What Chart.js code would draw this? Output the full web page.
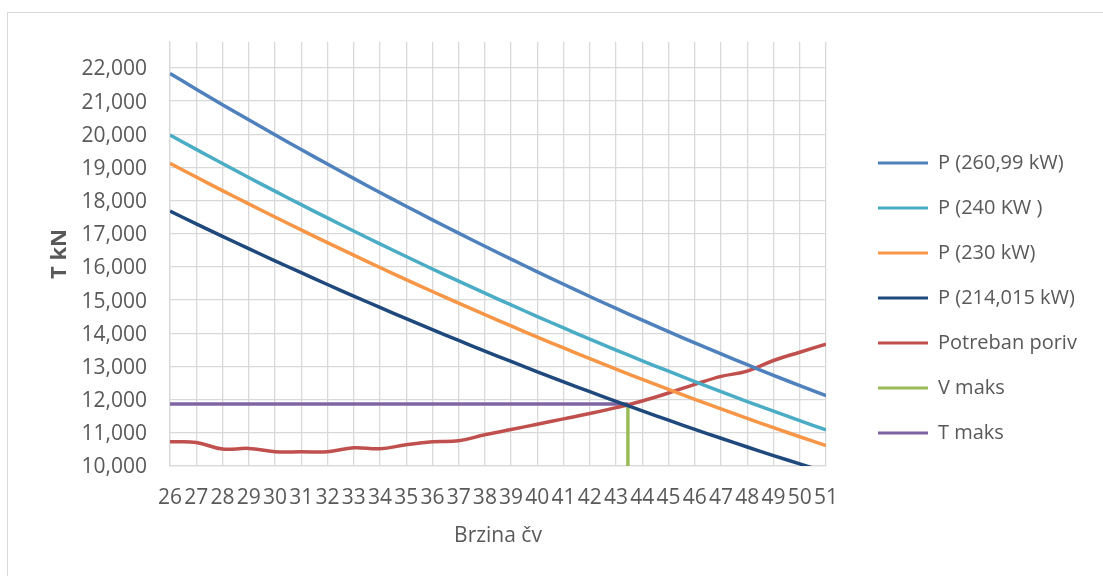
<!DOCTYPE html>
<html><head><meta charset="utf-8">
<script src="https://cdn.jsdelivr.net/npm/chart.js@4"></script>
<style>
html,body{margin:0;padding:0;background:#fff;overflow:hidden;width:1103px;height:576px;}
#frame{position:absolute;left:7px;top:12px;width:1200px;height:700px;border:1px solid #d9d9d9;box-sizing:border-box;}
#c{position:absolute;left:0;top:0;}
</style></head><body>
<div id="frame"></div>
<canvas id="c" width="1103" height="576"></canvas>
<script>
// Speeds (Brzina čv)
const speeds = [26,27,28,29,30,31,32,33,34,35,36,37,38,39,40,41,42,43,44,45,46,47,48,49,50,51];
// Y tick values (T kN)
const yTicks = [10000,11000,12000,13000,14000,15000,16000,17000,18000,19000,20000,21000,22000];
// Thrust curves (T kN)
const p260 = [21830,21358,20892,20434,19982,19538,19100,18670,18246,17830,17420,17018,16622,16234,15852,15478,15110,14750,14396,14050,13710,13378,13052,12734,12422,12118];
const p240 = [19974,19543,19116,18697,18284,17877,17477,17083,16695,16314,15939,15571,15209,14854,14505,14162,13826,13496,13172,12856,12545,12241,11943,11652,11366,11088];
const p230 = [19123,18710,18301,17900,17504,17115,16732,16355,15983,15619,15260,14908,14561,14221,13886,13559,13236,12921,12611,12308,12010,11719,11434,11155,10882,10615];
const p214 = [17682,17300,16923,16552,16185,15826,15471,15123,14779,14442,14110,13785,13464,13150,12840,12537,12239,11948,11661,11381,11105,10836,10572,10315,10062,9816];
const potreban = [10730,10710,10510,10530,10430,10430,10430,10550,10520,10640,10730,10760,10940,11100,11260,11420,11580,11760,11960,12200,12460,12700,12860,13180,13430,13670];
// V maks (vertical marker) and T maks (horizontal marker)
const vMaksX = [43.45, 43.45];
const vMaksY = [10000, 11870];
const tMaksX = [26, 43.45];
const tMaksY = [11870, 11870];

const names = ['P (260,99 kW)','P (240 KW )','P (230 kW)','P (214,015 kW)','Potreban poriv','V maks','T maks'];
const colors = ['#4F81BD','#4BACC6','#F79646','#1F497D','#C0504D','#9BBB59','#8064A2'];

const pts = (xs, ys) => xs.map((x, i) => ({x: x, y: ys[i]}));
const seriesData = [pts(speeds,p260), pts(speeds,p240), pts(speeds,p230), pts(speeds,p214), pts(speeds,potreban), pts(vMaksX,vMaksY), pts(tMaksX,tMaksY)];

Chart.defaults.font.family = "'Open Sans', sans-serif";
Chart.defaults.color = '#595959';

const legendPlacer = {
  id: 'legendPlacer',
  beforeDraw(chart) {
    const lg = chart.legend;
    if (!lg) return;
    lg.left = 853; lg.right = lg.left + lg.width;
    lg.top = 96; lg.bottom = 500;
  }
};

const datasets = seriesData.map((d, i) => ({
  label: names[i],
  data: d,
  borderColor: colors[i],
  backgroundColor: colors[i],
  borderWidth: 3.5,
  pointRadius: 0,
  pointHoverRadius: 0,
  tension: i < 5 ? 0.4 : 0,
  fill: false,
  order: i === 6 ? 10 : i
}));

new Chart(document.getElementById('c'), {
  type: 'line',
  data: { datasets: datasets },
  options: {
    responsive: false,
    animation: false,
    devicePixelRatio: 1,
    layout: { padding: { left: 0, top: 42, right: 277, bottom: 0 } },
    plugins: {
      tooltip: { enabled: false },
      legend: {
        position: 'chartArea',
        align: 'center',
        labels: {
          boxWidth: 50,
          boxHeight: 3,
          padding: 25,
          color: '#595959',
          font: { size: 20 },
          generateLabels(chart) {
            const items = Chart.defaults.plugins.legend.labels.generateLabels(chart);
            items.forEach(it => { it.fillStyle = it.strokeStyle; it.lineWidth = 0; });
            items.sort((a, b) => a.datasetIndex - b.datasetIndex);
            return items;
          }
        }
      }
    },
    scales: {
      x: {
        type: 'linear',
        min: 26, max: 51,
        afterFit(s) { s.height = 110; },
        afterBuildTicks(s) { s.ticks = speeds.map(v => ({ value: v })); },
        grid: { color: '#d9d9d9', lineWidth: 1.3, drawTicks: false },
        border: { color: '#d9d9d9', width: 1.3 },
        ticks: {
          autoSkip: false, maxRotation: 0, minRotation: 0,
          padding: 19, color: '#595959', font: { size: 21 },
          callback: v => String(v)
        },
        title: { display: true, text: 'Brzina čv', color: '#595959', font: { size: 21 }, padding: { top: 0, bottom: 27 } }
      },
      y: {
        min: 10000, max: 22780,
        afterFit(s) { s.width = 170; },
        afterBuildTicks(s) { s.ticks = yTicks.map(v => ({ value: v })); },
        grid: { color: '#d9d9d9', lineWidth: 1.3, drawTicks: false },
        border: { color: '#d9d9d9', width: 1.3 },
        ticks: {
          autoSkip: false, padding: 23, labelOffset: 1.5,
          color: '#595959', font: { size: 21 },
          callback: v => v.toLocaleString('en-US')
        },
        title: { display: true, text: 'T kN', color: '#595959', font: { size: 22, weight: 'bold' }, padding: { top: 47, bottom: 0 } }
      }
    }
  },
  plugins: [legendPlacer]
});
</script>
</body></html>
